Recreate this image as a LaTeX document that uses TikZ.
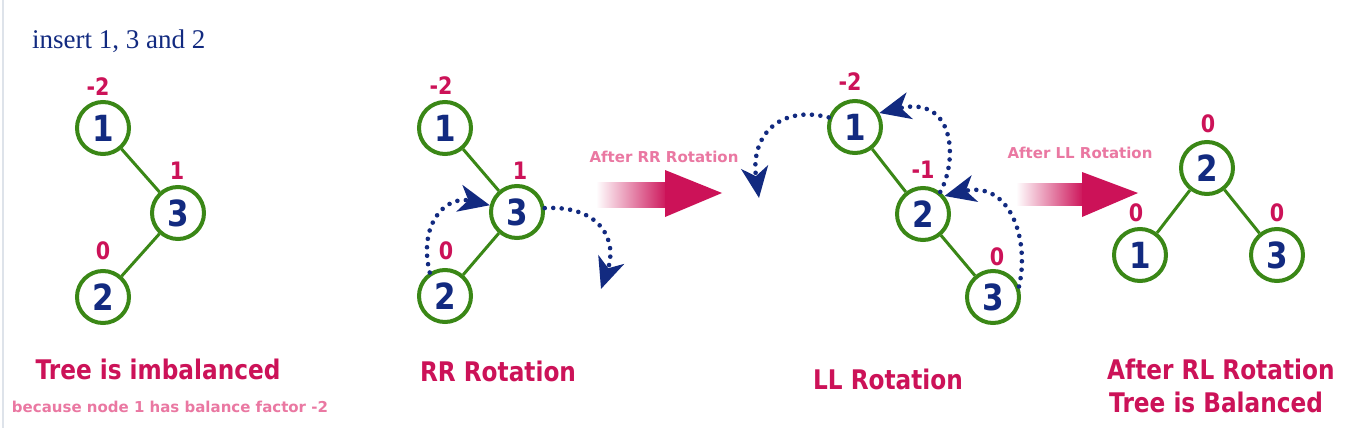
\documentclass[tikz,border=0pt]{standalone}
\usepackage{fontspec}
\setmainfont{DejaVu Sans}
\newfontfamily\tfont[FakeStretch=0.86]{DejaVu Sans}
\newfontfamily\nfont{DejaVu Sans}
\newfontfamily\serfont{Liberation Serif}
\usetikzlibrary{arrows.meta}
\definecolor{treegreen}{RGB}{58,135,22}
\definecolor{navyc}{RGB}{18,42,128}
\definecolor{pinkc}{RGB}{204,18,88}
\definecolor{lpink}{RGB}{234,120,162}
\definecolor{edgegray}{RGB}{222,227,234}
\begin{document}
\begin{tikzpicture}[x=1pt,y=-1pt,
  tn/.style={circle, draw=treegreen, line width=4pt, minimum size=52pt, inner sep=0pt,
    font=\tfont\bfseries\fontsize{36}{36}\selectfont, text=navyc},
  bfac/.style={font=\tfont\bfseries\fontsize{24}{24}\selectfont, text=pinkc, inner sep=0pt},
  tedge/.style={draw=treegreen, line width=3pt},
  rot/.style={draw=navyc, line width=4.6pt, dash pattern=on 0pt off 8.5pt, line cap=round,
    -{Stealth[length=31pt,width=27pt,inset=9pt]}},
  caption/.style={font=\tfont\bfseries\fontsize{27}{30}\selectfont, text=pinkc, inner sep=0pt},
  small/.style={font=\nfont\bfseries\fontsize{15}{17}\selectfont, text=lpink, inner sep=0pt},
  bigarrow/.style={fill=pinkc, draw=none}
]
\useasboundingbox (0,0) rectangle (1350,428);
\fill[white] (0,0) rectangle (1350,428);
\draw[edgegray, line width=2pt] (3,0) -- (3,428);

\node[anchor=base west, inner sep=0pt, font=\serfont\fontsize{27}{27}\selectfont, text=navyc] (title) at (32,49) {insert 1, 3 and 2};

% Tree 1
\node[tn] (a1) at (103,128) {1};
\node[tn] (a3) at (178,213) {3};
\node[tn] (a2) at (103,297) {2};
\draw[tedge] (a1) -- (a3);
\draw[tedge] (a3) -- (a2);
\node[bfac] (la1) at (98,87) {-2};
\node[bfac] (la3) at (177,171) {1};
\node[bfac] (la2) at (103,251) {0};

% Tree 2
\node[tn] (b1) at (445,128) {1};
\node[tn] (b3) at (517,212) {3};
\node[tn] (b2) at (445,296) {2};
\draw[tedge] (b1) -- (b3);
\draw[tedge] (b3) -- (b2);
\node[bfac] (lb1) at (441,86) {-2};
\node[bfac] (lb3) at (520,171) {1};
\node[bfac] (lb2) at (446,251) {0};
\draw[rot] (b2.123) .. controls (418,225) and (445,195) .. (b3.166);
\coordinate (bend) at (601,289);
\draw[rot] (b3.8) .. controls (600,205) and (618,240) .. (bend);

% Arrow 1
\coordinate (ar1s) at (596,182);
\coordinate (ar1m) at (668,207);
\shade[left color=white, right color=pinkc] (ar1s) rectangle (ar1m);
\fill[bigarrow] (665,170) -- (722,193) -- (665,217) -- cycle;
\node[small] (ar1t) at (664,157) {After RR Rotation};

% Tree 3
\node[tn] (c1) at (855,127) {1};
\node[tn] (c2) at (923,214) {2};
\node[tn] (c3) at (993,297) {3};
\draw[tedge] (c1) -- (c2);
\draw[tedge] (c2) -- (c3);
\node[bfac] (lc1) at (850,82) {-2};
\node[bfac] (lc2) at (923,170) {-1};
\node[bfac] (lc3) at (997,257) {0};
\coordinate (cend) at (759,198);
\draw[rot] (c1.160) .. controls (780,105) and (750,135) .. (cend);
\draw[rot] (c2.52) .. controls (958,160) and (955,95) .. (c1.30);
\draw[rot] (c3.22) .. controls (1030,240) and (1010,180) .. (c2.40);

% Arrow 2
\coordinate (ar2s) at (1016,183);
\coordinate (ar2m) at (1084,205);
\shade[left color=white, right color=pinkc] (ar2s) rectangle (ar2m);
\fill[bigarrow] (1082,172) -- (1138,193) -- (1082,217) -- cycle;
\node[small] (ar2t) at (1080,153) {After LL Rotation};

% Tree 4
\node[tn] (d2) at (1207,168) {2};
\node[tn] (d1) at (1140,255) {1};
\node[tn] (d3) at (1277,255) {3};
\draw[tedge] (d2) -- (d1);
\draw[tedge] (d2) -- (d3);
\node[bfac] (ld2) at (1208,124) {0};
\node[bfac] (ld1) at (1136,213) {0};
\node[bfac] (ld3) at (1277,213) {0};

% Captions
\node[caption, anchor=base] (cap1) at (158,379) {Tree is imbalanced};
\node[small, anchor=base] (cap1b) at (170,412) {because node 1 has balance factor -2};
\node[caption, anchor=base] (cap2) at (498,381) {RR Rotation};
\node[caption, anchor=base] (cap3) at (888,389) {LL Rotation};
\node[caption, anchor=base west] (cap4a) at (1107,379) {After RL Rotation};
\node[caption, anchor=base west] (cap4b) at (1109,412) {Tree is Balanced};
\end{tikzpicture}
\end{document}
